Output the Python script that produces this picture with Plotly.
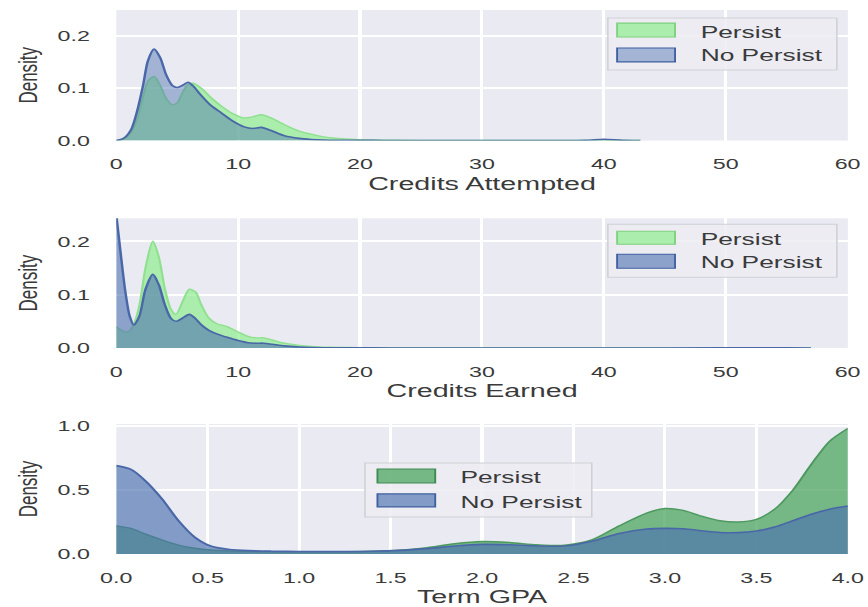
import plotly.graph_objects as go
from plotly.subplots import make_subplots

# ---- Credits Attempted (KDE densities) ----
ca_x = [0, 0.6, 1.2, 1.7, 2.2, 2.6, 3.1, 3.6, 4.1, 4.6, 5.0, 5.5, 5.9, 6.3, 7.0, 7.8,
        8.6, 9.5, 10.5, 11.2, 11.9, 12.7, 13.8, 15.0, 16.0, 17.0, 18.2, 19.5, 21.0,
        23.0, 26.0, 30.0, 35.0, 38.5, 40.0, 41.5, 43.0]
ca_persist = [0.0, 0.003, 0.015, 0.040, 0.083, 0.113, 0.122, 0.105, 0.080, 0.068, 0.072,
              0.094, 0.107, 0.109, 0.099, 0.081, 0.066, 0.052, 0.043, 0.045, 0.049, 0.043,
              0.030, 0.018, 0.012, 0.007, 0.004, 0.002, 0.001, 0.0005, 0.0002, 0.0, 0.0,
              0.0, 0.0, 0.0, 0.0]
ca_nopersist = [0.0, 0.004, 0.020, 0.055, 0.105, 0.152, 0.174, 0.158, 0.125, 0.105, 0.101,
                0.106, 0.111, 0.104, 0.085, 0.066, 0.053, 0.038, 0.026, 0.023, 0.025, 0.019,
                0.009, 0.004, 0.002, 0.001, 0.0005, 0.0003, 0.0002, 0.0001, 0.0, 0.0, 0.0,
                0.0003, 0.0025, 0.0003, 0.0]

# ---- Credits Earned (KDE densities) ----
ce_x = [0, 0.35, 0.75, 1.1, 1.45, 1.9, 2.4, 3.0, 3.5, 4.0, 4.5, 4.9, 5.5, 6.0, 6.5, 7.0,
        7.6, 8.3, 9.1, 10.0, 10.8, 11.5, 12.1, 12.8, 13.8, 15.0, 16.0, 17.5, 19.0, 21.0,
        24.0, 28.0, 35.0, 45.0, 55.0, 57.0]
ce_persist = [0.040, 0.034, 0.030, 0.032, 0.045, 0.080, 0.150, 0.200, 0.170, 0.110, 0.072,
              0.063, 0.090, 0.110, 0.105, 0.080, 0.056, 0.045, 0.040, 0.030, 0.022, 0.019,
              0.019, 0.015, 0.009, 0.005, 0.003, 0.0015, 0.001, 0.0005, 0.0002, 0.0, 0.0,
              0.0, 0.0, 0.0]
ce_nopersist = [0.250, 0.180, 0.105, 0.060, 0.043, 0.060, 0.110, 0.138, 0.118, 0.080, 0.055,
                0.050, 0.057, 0.063, 0.055, 0.043, 0.033, 0.026, 0.020, 0.014, 0.010, 0.009,
                0.009, 0.007, 0.004, 0.002, 0.001, 0.0005, 0.0003, 0.0002, 0.0001, 0.0001,
                0.0001, 0.0001, 0.0002, 0.0]

# ---- Term GPA (KDE densities) ----
gpa_x = [0, 0.08, 0.16, 0.25, 0.34, 0.43, 0.52, 0.62, 0.72, 0.85, 1.0, 1.2, 1.4, 1.55, 1.7,
         1.85, 2.0, 2.15, 2.3, 2.45, 2.6, 2.75, 2.9, 3.0, 3.1, 3.2, 3.3, 3.4, 3.5, 3.6, 3.7,
         3.8, 3.9, 4.0]
gpa_persist = [0.22, 0.20, 0.155, 0.11, 0.07, 0.045, 0.031, 0.024, 0.020, 0.018, 0.018,
               0.018, 0.022, 0.030, 0.050, 0.080, 0.098, 0.090, 0.072, 0.068, 0.110, 0.220,
               0.320, 0.355, 0.340, 0.295, 0.260, 0.250, 0.270, 0.350, 0.500, 0.700, 0.880,
               0.980]
gpa_nopersist = [0.69, 0.66, 0.57, 0.43, 0.26, 0.13, 0.06, 0.035, 0.026, 0.022, 0.020, 0.020,
                 0.022, 0.028, 0.042, 0.062, 0.075, 0.072, 0.063, 0.062, 0.100, 0.160, 0.195,
                 0.200, 0.197, 0.182, 0.168, 0.167, 0.180, 0.210, 0.260, 0.310, 0.350, 0.375]

series_names = ["Persist", "No Persist"]
x_titles = ["Credits Attempted", "Credits Earned", "Term GPA"]
x_ticks_credits = [0, 10, 20, 30, 40, 50, 60]
x_ticks_gpa = [0.0, 0.5, 1.0, 1.5, 2.0, 2.5, 3.0, 3.5, 4.0]
y_ticks_small = [0.0, 0.1, 0.2]
y_ticks_gpa = [0.0, 0.5, 1.0]

# Horizontal stretch applied to the rendered figure
STRETCH = 1.55
FULL_W, FULL_H = 868, 607
W = FULL_W / STRETCH

FONT = "Liberation Sans, Arial, sans-serif"
TXT = "#3a3a3a"
BG = "#EAEAF2"

# per-panel style: (persist fill, persist line, nopersist fill, nopersist line)
styles = [
    ("rgba(144,238,144,0.70)", "#8fe08f", "rgba(76,114,176,0.45)", "#4a68a8"),
    ("rgba(144,238,144,0.70)", "#8fe08f", "rgba(76,114,176,0.60)", "#4a68a8"),
    ("rgba(85,168,104,0.78)", "#4c9a5e", "rgba(76,114,176,0.66)", "#4a68a8"),
]

panels = [
    (ca_x, ca_persist, ca_nopersist),
    (ce_x, ce_persist, ce_nopersist),
    (gpa_x, gpa_persist, gpa_nopersist),
]

fig = make_subplots(rows=3, cols=1)

for i, (xs, yp, yn) in enumerate(panels):
    pf, pl, nf, nl = styles[i]
    fig.add_trace(go.Scatter(x=xs, y=yp, name=series_names[0], mode="lines",
                             line=dict(color=pl, width=1.4, shape="spline", smoothing=0.8),
                             fill="tozeroy", fillcolor=pf, showlegend=False,
                             hoverinfo="skip"), row=i + 1, col=1)
    fig.add_trace(go.Scatter(x=xs, y=yn, name=series_names[1], mode="lines",
                             line=dict(color=nl, width=1.6, shape="spline", smoothing=0.8),
                             fill="tozeroy", fillcolor=nf, showlegend=False,
                             hoverinfo="skip"), row=i + 1, col=1)

# plot areas in page pixels (top, bottom)
y_px = [(10, 140.5), (218.3, 348), (424, 554)]
x_ranges = [[0, 60.02], [0, 60.02], [0, 4.0]]
y_ranges = [[0, 0.2486], [0, 0.243], [0, 1.015]]
x_tickvals = [x_ticks_credits, x_ticks_credits, x_ticks_gpa]
x_ticktext = [[str(v) for v in x_ticks_credits], [str(v) for v in x_ticks_credits],
              ["%.1f" % v for v in x_ticks_gpa]]
y_tickvals = [y_ticks_small, y_ticks_small, y_ticks_gpa]

for i in range(3):
    top, bot = y_px[i]
    sfx = "" if i == 0 else str(i + 1)
    fig.layout["xaxis" + sfx].update(
        range=x_ranges[i], tickvals=x_tickvals[i], ticktext=x_ticktext[i],
        showgrid=True, gridcolor="white", gridwidth=1.5, zeroline=False,
        showline=False, ticks="", ticklabelstandoff=13, automargin=False,
        tickfont=dict(family=FONT, size=15, color=TXT),
        title=dict(text=x_titles[i], font=dict(family=FONT, size=18.5, color=TXT), standoff=5),
    )
    fig.layout["yaxis" + sfx].update(
        domain=[1 - bot / FULL_H, 1 - top / FULL_H],
        range=y_ranges[i], tickvals=y_tickvals[i],
        ticktext=["%.1f" % v for v in y_tickvals[i]],
        showgrid=True, gridcolor="white", gridwidth=1.5, zeroline=False,
        showline=False, ticks="", ticklabelstandoff=16, automargin=False,
        tickfont=dict(family=FONT, size=15, color=TXT),
        title=dict(text="Density", font=dict(family=FONT, size=17, color=TXT), standoff=8),
    )

# legends, placed in each axis' domain coordinates
legend_specs = [
    dict(box=(0.672, 0.985, 0.540, 0.939), px=(0.6846, 0.7638),
         py=[(0.793, 0.900), (0.602, 0.709)], tx=0.795, ty=[0.831, 0.655]),
    dict(box=(0.672, 0.985, 0.546, 0.954), px=(0.6846, 0.7638),
         py=[(0.800, 0.900), (0.615, 0.723)], tx=0.795, ty=[0.838, 0.662]),
    dict(box=(0.340, 0.650, 0.285, 0.700), px=(0.357, 0.436),
         py=[(0.546, 0.654), (0.362, 0.462)], tx=0.466, ty=[0.592, 0.400]),
]

for i, spec in enumerate(legend_specs):
    sfx = "" if i == 0 else str(i + 1)
    xr, yr = "x%s domain" % sfx, "y%s domain" % sfx
    pf, pl, nf, nl = styles[i]
    bx0, bx1, by0, by1 = spec["box"]
    fig.add_shape(type="rect", xref=xr, yref=yr, x0=bx0, x1=bx1, y0=by0, y1=by1,
                  fillcolor="rgba(236,236,242,0.85)", line=dict(color="#cfcfd6", width=1))
    patch_lines = ["#7fd07f" if i < 2 else "#3e8a52", "#3f5f9f"]
    for k in range(2):
        fill = pf if k == 0 else nf
        fig.add_shape(type="rect", xref=xr, yref=yr, x0=spec["px"][0], x1=spec["px"][1],
                      y0=spec["py"][k][0], y1=spec["py"][k][1],
                      fillcolor=fill, line=dict(color=patch_lines[k], width=1.2))
        fig.add_annotation(xref=xr, yref=yr, x=spec["tx"], y=spec["ty"][k],
                           text=series_names[k], showarrow=False, xanchor="left",
                           yanchor="middle", font=dict(family=FONT, size=17, color=TXT))

fig.update_layout(
    width=W, height=FULL_H,
    margin=dict(l=115.6 / STRETCH, r=(FULL_W - 848) / STRETCH, t=0, b=0, autoexpand=False),
    paper_bgcolor="white", plot_bgcolor=BG,
    showlegend=False,
)

stretch_js = ("var gd=document.getElementById('{plot_id}');"
              "gd.style.transformOrigin='0 0';"
              "gd.style.transform='scaleX(%.4f)';" % STRETCH)

fig.write_html("out.html", post_script=stretch_js, config={"displayModeBar": False})
